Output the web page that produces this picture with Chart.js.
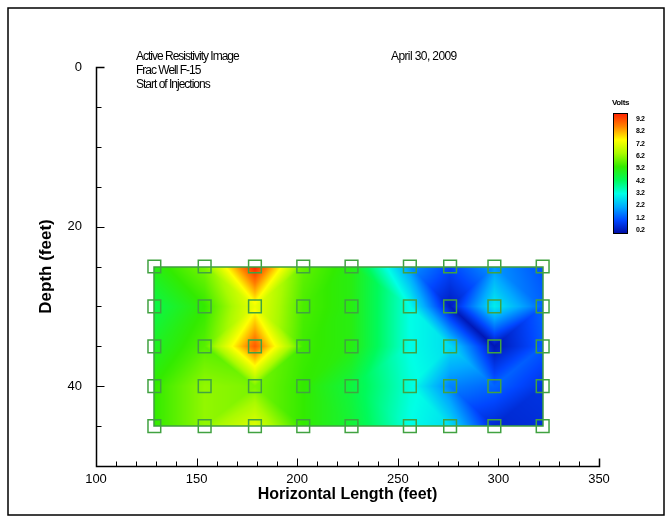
<!DOCTYPE html>
<html>
<head>
<meta charset="utf-8">
<script src="https://cdn.jsdelivr.net/npm/chart.js@4.4.1/dist/chart.umd.min.js"></script>
<style>
  html, body { margin: 0; padding: 0; background: #fff; }
  #wrap { width: 671px; height: 522px; }
</style>
</head>
<body>
<div id="wrap"><canvas id="chart" width="671" height="522"></canvas></div>
<script>
// electrode positions (feet) and depths (feet)
const xPositions = [129, 154, 179, 203, 227, 256, 276, 298, 322];
const depths = [25, 30, 35, 40, 45];

// volts at each electrode, one array per depth row
const volts25 = [5.0, 5.8, 9.2, 5.6, 5.0, 2.0, 1.2, 2.0, 1.3];
const volts30 = [4.4, 5.2, 7.0, 5.4, 5.0, 3.2, 0.5, 3.0, 1.5];
const volts35 = [4.8, 5.5, 8.6, 5.3, 5.0, 3.2, 2.8, 0.4, 1.4];
const volts40 = [5.2, 6.0, 5.8, 5.2, 4.5, 3.3, 1.8, 1.5, 0.9];
const volts45 = [5.2, 6.0, 6.8, 5.2, 4.6, 3.2, 2.8, 0.7, 0.8];
const voltRows = [volts25, volts30, volts35, volts40, volts45];

const xTicks = [100, 150, 200, 250, 300, 350];
const yTicks = [0, 20, 40];
const legendLevels = [9.2, 8.2, 7.2, 6.2, 5.2, 4.2, 3.2, 2.2, 1.2, 0.2];

// colour ramp (value -> rgb)
const ramp = [
  [0.2, [0, 10, 160]],
  [1.2, [0, 70, 255]],
  [2.2, [0, 170, 255]],
  [3.2, [0, 255, 230]],
  [4.2, [0, 250, 90]],
  [5.2, [50, 235, 0]],
  [6.2, [170, 250, 0]],
  [7.2, [255, 255, 0]],
  [8.2, [255, 130, 0]],
  [9.2, [255, 30, 0]]
];

function voltColor(v) {
  if (v <= ramp[0][0]) return ramp[0][1];
  for (let i = 1; i < ramp.length; i++) {
    if (v <= ramp[i][0]) {
      const f = (v - ramp[i - 1][0]) / (ramp[i][0] - ramp[i - 1][0]);
      const a = ramp[i - 1][1], b = ramp[i][1];
      return [a[0] + (b[0] - a[0]) * f, a[1] + (b[1] - a[1]) * f, a[2] + (b[2] - a[2]) * f];
    }
  }
  return ramp[ramp.length - 1][1];
}

function findCell(arr, v) {
  for (let i = 0; i < arr.length - 2; i++) if (v <= arr[i + 1]) return i;
  return arr.length - 2;
}

// linear interpolation on triangles, diagonal chosen by closest corner values
function sample(xv, dv) {
  const i = findCell(xPositions, xv);
  const j = findCell(depths, dv);
  const u = Math.min(1, Math.max(0, (xv - xPositions[i]) / (xPositions[i + 1] - xPositions[i])));
  const t = Math.min(1, Math.max(0, (dv - depths[j]) / (depths[j + 1] - depths[j])));
  const a = voltRows[j][i], b = voltRows[j][i + 1];
  const c = voltRows[j + 1][i], d = voltRows[j + 1][i + 1];
  if (Math.abs(a - d) <= Math.abs(b - c)) {
    if (u >= t) return a + (b - a) * (u - t) + (d - a) * t;
    return a + (c - a) * (t - u) + (d - a) * u;
  }
  if (u + t <= 1) return a + (b - a) * u + (c - a) * t;
  return d + (c - d) * (1 - u) + (b - d) * (1 - t);
}

const points = [];
depths.forEach(dep => xPositions.forEach(x => points.push({ x: x, y: dep })));

const fieldPlugin = {
  id: 'field',
  beforeDatasetsDraw(chart) {
    const { ctx, scales: { x, y } } = chart;
    const left = Math.round(x.getPixelForValue(xPositions[0]));
    const right = Math.round(x.getPixelForValue(xPositions[xPositions.length - 1]));
    const top = Math.round(y.getPixelForValue(depths[0]));
    const bottom = Math.round(y.getPixelForValue(depths[depths.length - 1]));
    const w = right - left, h = bottom - top;
    const off = document.createElement('canvas');
    off.width = w; off.height = h;
    const octx = off.getContext('2d');
    const img = octx.createImageData(w, h);
    for (let py = 0; py < h; py++) {
      const dv = y.getValueForPixel(top + py + 0.5);
      for (let px = 0; px < w; px++) {
        const xv = x.getValueForPixel(left + px + 0.5);
        const col = voltColor(sample(xv, dv));
        const k = (py * w + px) * 4;
        img.data[k] = col[0]; img.data[k + 1] = col[1]; img.data[k + 2] = col[2]; img.data[k + 3] = 255;
      }
    }
    octx.putImageData(img, 0, 0);
    ctx.drawImage(off, left, top);
    ctx.save();
    ctx.strokeStyle = '#3f9f3f';
    ctx.lineWidth = 1.5;
    ctx.strokeRect(left, top, w, h);
    ctx.restore();
  }
};

const decorPlugin = {
  id: 'decor',
  afterDraw(chart) {
    const { ctx, scales: { x, y } } = chart;
    ctx.save();
    // outer frame
    ctx.strokeStyle = '#000';
    ctx.lineWidth = 1.5;
    ctx.strokeRect(8, 8, 656, 507);

    // axes with inward ticks
    const x0 = Math.round(x.getPixelForValue(100)) + 0.5;
    const yBottom = Math.round(y.getPixelForValue(50)) + 0.5;
    const yTop = Math.round(y.getPixelForValue(0)) + 0.5;
    const xEnd = Math.round(x.getPixelForValue(350)) + 0.5;
    ctx.lineWidth = 1.5;
    ctx.beginPath();
    ctx.moveTo(x0 + 8, yTop); ctx.lineTo(x0, yTop); ctx.lineTo(x0, yBottom);
    ctx.lineTo(xEnd, yBottom); ctx.lineTo(xEnd, yBottom - 8);
    ctx.stroke();
    ctx.lineWidth = 1;
    ctx.beginPath();
    for (let d = 5; d < 50; d += 5) {
      const py = Math.round(y.getPixelForValue(d)) + 0.5;
      ctx.moveTo(x0, py); ctx.lineTo(x0 + (d % 20 === 0 ? 8 : 5), py);
    }
    for (let v = 110; v < 350; v += 10) {
      const px = Math.round(x.getPixelForValue(v)) + 0.5;
      ctx.moveTo(px, yBottom); ctx.lineTo(px, yBottom - (v % 50 === 0 ? 8 : 5));
    }
    ctx.stroke();

    // annotations
    ctx.fillStyle = '#000';
    ctx.textBaseline = 'alphabetic';
    ctx.font = '12px "Liberation Sans", Arial, sans-serif';
    ctx.letterSpacing = '-1px';
    ctx.fillText('Active Resistivity Image', 136, 60);
    ctx.fillText('Frac Well F-15', 136, 74);
    ctx.fillText('Start of Injections', 136, 88);
    ctx.letterSpacing = '-0.6px';
    ctx.fillText('April 30, 2009', 391, 60);

    // colour bar legend
    const barL = 613, barT = 113, barW = 15, barH = 121;
    const grad = ctx.createLinearGradient(0, barT + barH, 0, barT);
    const lo = ramp[0][0], hi = ramp[ramp.length - 1][0];
    ramp.forEach(s => grad.addColorStop((s[0] - lo) / (hi - lo), 'rgb(' + s[1].join(',') + ')'));
    ctx.fillStyle = grad;
    ctx.fillRect(barL, barT, barW, barH);
    ctx.strokeStyle = '#000';
    ctx.lineWidth = 1;
    ctx.strokeRect(barL + 0.5, barT + 0.5, barW - 1, barH - 1);
    ctx.fillStyle = '#000';
    ctx.letterSpacing = '-0.4px';
    ctx.font = 'bold 8px "Liberation Sans", Arial, sans-serif';
    ctx.fillText('Volts', 612, 105);
    ctx.font = 'bold 7px "Liberation Sans", Arial, sans-serif';
    ctx.textBaseline = 'middle';
    legendLevels.forEach((lv, k) => {
      ctx.fillText(lv.toFixed(1), 636, barT + 6 + k * (barH - 10) / (legendLevels.length - 1));
    });
    ctx.restore();
  }
};

new Chart(document.getElementById('chart'), {
  type: 'scatter',
  data: {
    datasets: [{
      data: points,
      pointStyle: 'rect',
      pointRadius: 9,
      pointHoverRadius: 9,
      borderColor: '#41a241',
      borderWidth: 1.5,
      backgroundColor: 'rgba(0,0,0,0)'
    }]
  },
  options: {
    responsive: false,
    animation: false,
    events: [],
    layout: { padding: { left: 33, top: 67, right: 72, bottom: 0 } },
    plugins: { legend: { display: false }, tooltip: { enabled: false } },
    scales: {
      x: {
        type: 'linear',
        min: 100, max: 350,
        afterBuildTicks: s => { s.ticks = xTicks.map(v => ({ value: v })); },
        afterFit: s => { s.height = 56; },
        grid: { display: false, drawTicks: false },
        border: { display: false },
        ticks: { color: '#000', padding: 6, font: { family: '"Liberation Sans", Arial', size: 13 } },
        title: {
          display: true,
          text: 'Horizontal Length (feet)',
          color: '#000',
          font: { family: '"Liberation Sans", Arial', size: 16, weight: 'bold' },
          padding: { top: 0, bottom: 18 }
        }
      },
      y: {
        type: 'linear',
        reverse: true,
        min: 0, max: 50,
        afterBuildTicks: s => { s.ticks = yTicks.map(v => ({ value: v })); },
        afterFit: s => { s.width = 63; },
        grid: { display: false, drawTicks: false },
        border: { display: false },
        ticks: { color: '#000', padding: 14, font: { family: '"Liberation Sans", Arial', size: 13 } },
        title: {
          display: true,
          text: 'Depth (feet)',
          color: '#000',
          font: { family: '"Liberation Sans", Arial', size: 17, weight: 'bold' },
          padding: { top: 3, bottom: 0 }
        }
      }
    }
  },
  plugins: [fieldPlugin, decorPlugin]
});
</script>
</body>
</html>
